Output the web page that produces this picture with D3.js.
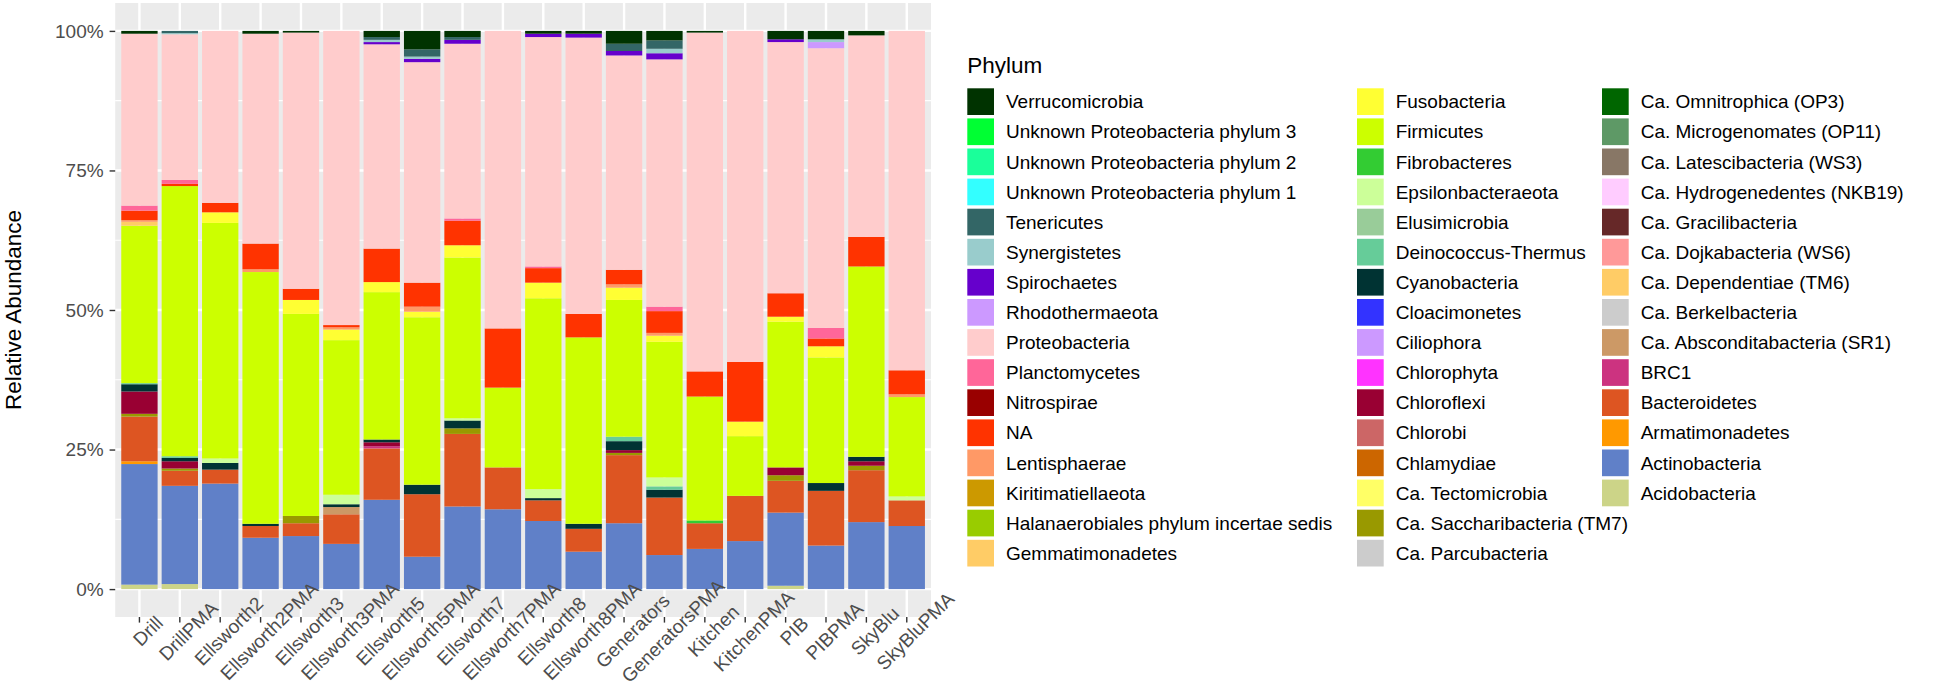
<!DOCTYPE html>
<html lang="en">
<head>
<meta charset="utf-8">
<title>Relative Abundance by Phylum</title>
<script src="https://cdnjs.cloudflare.com/ajax/libs/d3/7.8.5/d3.min.js"></script>
<style>
  body { margin: 0; background: #fff; }
  text { font-family: "Liberation Sans", Arial, sans-serif; }
</style>
</head>
<body>
<script>
// sample names (x axis)
var samples = ["Drill", "DrillPMA", "Ellsworth2", "Ellsworth2PMA", "Ellsworth3", "Ellsworth3PMA",
  "Ellsworth5", "Ellsworth5PMA", "Ellsworth7", "Ellsworth7PMA", "Ellsworth8", "Ellsworth8PMA",
  "Generators", "GeneratorsPMA", "Kitchen", "KitchenPMA", "PIB", "PIBPMA", "SkyBlu", "SkyBluPMA"];

// legend order (top of stack first)
var phyla = ["Verrucomicrobia", "Unknown Proteobacteria phylum 3", "Unknown Proteobacteria phylum 2",
  "Unknown Proteobacteria phylum 1", "Tenericutes", "Synergistetes", "Spirochaetes", "Rhodothermaeota",
  "Proteobacteria", "Planctomycetes", "Nitrospirae", "NA", "Lentisphaerae", "Kiritimatiellaeota",
  "Halanaerobiales phylum incertae sedis", "Gemmatimonadetes",
  "Fusobacteria", "Firmicutes", "Fibrobacteres", "Epsilonbacteraeota", "Elusimicrobia",
  "Deinococcus-Thermus", "Cyanobacteria", "Cloacimonetes", "Ciliophora", "Chlorophyta", "Chloroflexi",
  "Chlorobi", "Chlamydiae", "Ca. Tectomicrobia", "Ca. Saccharibacteria (TM7)", "Ca. Parcubacteria",
  "Ca. Omnitrophica (OP3)", "Ca. Microgenomates (OP11)", "Ca. Latescibacteria (WS3)",
  "Ca. Hydrogenedentes (NKB19)", "Ca. Gracilibacteria", "Ca. Dojkabacteria (WS6)",
  "Ca. Dependentiae (TM6)", "Ca. Berkelbacteria", "Ca. Absconditabacteria (SR1)", "BRC1",
  "Bacteroidetes", "Armatimonadetes", "Actinobacteria", "Acidobacteria"];

var phylaColors = ["#003300", "#00FF33", "#1AFF9A", "#33FFFF", "#336666", "#99CCCC", "#6600CC", "#CC99FF",
  "#FFCCCC", "#FF6699", "#990000", "#FF3300", "#FF9966", "#CC9900", "#99CC00", "#FFCC66",
  "#FFFF33", "#CCFF00", "#33CC33", "#CCFF99", "#99CC99", "#66CC99", "#003333", "#3333FF",
  "#CC99FF", "#FF33FF", "#990033", "#CC6666", "#CC6600", "#FFFF66", "#999900", "#CCCCCC",
  "#006600", "#5E9966", "#887766", "#FFCCFF", "#662828", "#FF9999", "#FFCC66", "#CCCCCC",
  "#CC9966", "#CC3380", "#DD5522", "#FF9900", "#6080C8", "#CCD488"];

// relative abundance in percent, one value per sample (same order as samples)
var acidobacteria   = [0.8, 0.9, 0, 0, 0, 0, 0, 0, 0, 0, 0, 0, 0, 0, 0, 0, 0.6, 0, 0, 0];
var actinobacteria  = [21.6, 17.6, 18.9, 9.2, 9.5, 8.1, 16.0, 5.8, 14.8, 14.3, 12.2, 6.7, 11.8, 6.1, 7.2, 8.6, 13.1, 7.8, 12.0, 11.3];
var armatimonadetes = [0.5, 0, 0, 0, 0, 0, 0, 0, 0, 0, 0, 0, 0, 0, 0, 0, 0, 0, 0, 0];
var bacteroidetes   = [8.0, 2.7, 2.5, 2.1, 2.3, 5.3, 9.2, 11.2, 13.0, 7.5, 3.7, 4.1, 12.2, 10.3, 4.6, 8.1, 5.7, 9.8, 9.3, 4.6];
var brc1            = [0, 0, 0, 0, 0, 0, 0.4, 0, 0, 0, 0, 0, 0, 0, 0, 0, 0, 0, 0, 0];
var absconditabact  = [0, 0, 0, 0, 0, 1.3, 0, 0, 0, 0, 0, 0, 0, 0, 0, 0, 0, 0, 0, 0];
var saccharibact    = [0.5, 0.4, 0, 0, 1.3, 0, 0, 0, 1.0, 0, 0, 0, 0.4, 0, 0, 0, 1.0, 0, 0.8, 0];
var chloroflexi     = [4.0, 1.3, 0, 0, 0, 0, 0.7, 0, 0, 0, 0, 0, 0.5, 0, 0, 0, 1.4, 0, 0.8, 0];
var cyanobacteria   = [1.3, 0.6, 1.2, 0.4, 0, 0.5, 0.5, 1.7, 1.4, 0, 0.4, 0.9, 1.6, 1.4, 0, 0, 0, 1.4, 0.8, 0];
var deinococcus     = [0.2, 0.3, 0, 0, 0, 0, 0, 0, 0, 0, 0, 0, 0.8, 0.6, 0, 0, 0, 0, 0, 0];
var epsilonbact     = [0, 0, 0.8, 0, 0, 1.7, 0, 0, 0.4, 0, 1.6, 0, 0, 1.6, 0, 0, 0, 0, 0, 0.7];
var fibrobacteres   = [0, 0, 0, 0, 0, 0, 0, 0, 0, 0, 0, 0, 0, 0, 0.5, 0, 0, 0, 0, 0];
var firmicutes      = [28.2, 48.4, 42.2, 45.1, 36.2, 27.7, 26.4, 30.0, 28.8, 14.3, 34.2, 33.4, 24.5, 24.3, 22.2, 10.7, 26.1, 22.5, 34.1, 17.8];
var fusobacteria    = [0, 0, 1.9, 0, 2.5, 1.9, 1.8, 1.0, 2.2, 0, 2.8, 0, 2.2, 1.1, 0, 2.6, 0.9, 2.0, 0, 0];
var gemmatimonad    = [0.7, 0, 0, 0, 0, 0, 0, 0, 0, 0, 0, 0, 0, 0, 0, 0, 0, 0, 0, 0];
var lentisphaerae   = [0.3, 0, 0, 0.5, 0, 0.4, 0, 0.9, 0, 0, 0, 0, 0.6, 0.5, 0, 0, 0, 0, 0, 0.5];
var naPhylum        = [1.7, 0.4, 1.7, 4.6, 2.0, 0.4, 6.0, 4.3, 4.4, 10.6, 2.6, 4.2, 2.6, 3.9, 4.5, 10.7, 4.2, 1.4, 5.3, 4.3];
var planctomycetes  = [0.9, 0.7, 0, 0, 0, 0, 0, 0, 0.4, 0, 0.3, 0, 0, 0.8, 0, 0, 0, 1.9, 0, 0];
var proteobacteria  = [30.8, 26.1, 30.8, 37.6, 45.9, 52.7, 36.6, 39.5, 31.3, 53.3, 41.1, 49.5, 38.4, 44.3, 60.7, 59.3, 45.0, 50.1, 36.1, 60.8];
var rhodothermaeota = [0, 0, 0, 0, 0, 0, 0, 0, 0, 0, 0, 0, 0, 0, 0, 0, 0, 1.1, 0, 0];
var spirochaetes    = [0, 0, 0, 0, 0, 0, 0.4, 0.6, 0.7, 0, 0.6, 0.7, 0.8, 1.1, 0, 0, 0.5, 0, 0, 0];
var synergistetes   = [0, 0.2, 0, 0, 0, 0, 0.4, 0.4, 0, 0, 0, 0, 0, 0.8, 0, 0, 0, 0.5, 0, 0];
var tenericutes     = [0, 0.4, 0, 0, 0, 0, 0.5, 1.3, 0.5, 0, 0, 0, 1.3, 1.5, 0, 0, 0, 0, 0, 0];
var verrucomicrobia = [0.5, 0, 0, 0.5, 0.3, 0, 1.1, 3.3, 1.1, 0, 0.5, 0.5, 2.3, 1.7, 0.3, 0, 1.5, 1.5, 0.8, 0];

var yBreaks = [0, 0.25, 0.5, 0.75, 1];
var yMinorBreaks = [0.125, 0.375, 0.625, 0.875];

var abundance = {
  "Acidobacteria": acidobacteria, "Actinobacteria": actinobacteria, "Armatimonadetes": armatimonadetes,
  "Bacteroidetes": bacteroidetes, "BRC1": brc1, "Ca. Absconditabacteria (SR1)": absconditabact,
  "Ca. Saccharibacteria (TM7)": saccharibact, "Chloroflexi": chloroflexi, "Cyanobacteria": cyanobacteria,
  "Deinococcus-Thermus": deinococcus, "Epsilonbacteraeota": epsilonbact, "Fibrobacteres": fibrobacteres,
  "Firmicutes": firmicutes, "Fusobacteria": fusobacteria, "Gemmatimonadetes": gemmatimonad,
  "Lentisphaerae": lentisphaerae, "NA": naPhylum, "Planctomycetes": planctomycetes,
  "Proteobacteria": proteobacteria, "Rhodothermaeota": rhodothermaeota, "Spirochaetes": spirochaetes,
  "Synergistetes": synergistetes, "Tenericutes": tenericutes, "Verrucomicrobia": verrucomicrobia
};

var W = 1954, H = 688;
var panel = {left: 115.2, right: 931, top: 3, bottom: 617};

var svg = d3.select("body").append("svg")
  .attr("width", W).attr("height", H);

var color = d3.scaleOrdinal().domain(phyla).range(phylaColors);

var x = d3.scaleBand().domain(samples)
  .range([panel.left, panel.right])
  .paddingInner(0.1).paddingOuter(0.15);

var y = d3.scaleLinear().domain([-0.05, 1.05]).range([panel.bottom, panel.top]);

// one row per sample, fractions
var rows = samples.map(function(s, i) {
  var r = {sample: s};
  phyla.forEach(function(p) { r[p] = abundance[p] ? abundance[p][i] / 100 : 0; });
  return r;
});

// bottom of the stack is the last legend entry
var stackKeys = phyla.slice().reverse();
var series = d3.stack().keys(stackKeys)(rows);

// panel background + grid
svg.append("rect")
  .attr("x", panel.left).attr("y", panel.top)
  .attr("width", panel.right - panel.left).attr("height", panel.bottom - panel.top)
  .attr("fill", "#EBEBEB");

svg.selectAll(".minor").data(yMinorBreaks).enter().append("line")
  .attr("x1", panel.left).attr("x2", panel.right)
  .attr("y1", function(d) { return y(d); }).attr("y2", function(d) { return y(d); })
  .attr("stroke", "#fff").attr("stroke-width", 1.2);

svg.selectAll(".major").data(yBreaks).enter().append("line")
  .attr("x1", panel.left).attr("x2", panel.right)
  .attr("y1", function(d) { return y(d); }).attr("y2", function(d) { return y(d); })
  .attr("stroke", "#fff").attr("stroke-width", 2.4);

svg.selectAll(".vgrid").data(samples).enter().append("line")
  .attr("x1", function(d) { return x(d) + x.bandwidth() / 2; })
  .attr("x2", function(d) { return x(d) + x.bandwidth() / 2; })
  .attr("y1", panel.top).attr("y2", panel.bottom)
  .attr("stroke", "#fff").attr("stroke-width", 2.4);

// stacked bars
svg.append("g").selectAll("g").data(series).enter().append("g")
  .attr("fill", function(d) { return color(d.key); })
  .selectAll("rect").data(function(d) { return d.filter(function(v) { return v[1] - v[0] > 0; }); })
  .enter().append("rect")
  .attr("x", function(d) { return x(d.data.sample); })
  .attr("width", x.bandwidth())
  .attr("y", function(d) { return y(d[1]); })
  .attr("height", function(d) { return y(d[0]) - y(d[1]); });

// y axis
var yAxis = svg.append("g")
  .attr("transform", "translate(" + panel.left + ",0)")
  .call(d3.axisLeft(y).tickValues(yBreaks).tickFormat(d3.format(".0%")).tickSize(5.6).tickPadding(6));
yAxis.select(".domain").remove();
yAxis.selectAll("line").attr("stroke", "#333").attr("stroke-width", 1.4);
yAxis.selectAll("text").attr("fill", "#4D4D4D")
  .style("font-size", "19px").style("font-family", "Liberation Sans, Arial, sans-serif");

// x axis, labels turned 45 degrees and centred under the tick
var xAxis = svg.append("g")
  .attr("transform", "translate(0," + panel.bottom + ")")
  .call(d3.axisBottom(x).tickSize(5.6));
xAxis.select(".domain").remove();
xAxis.selectAll("line").attr("stroke", "#333").attr("stroke-width", 1.4);
xAxis.selectAll("text")
  .attr("y", null).attr("dy", "0.35em")
  .attr("text-anchor", "middle")
  .attr("transform", "translate(8.5,14) rotate(-45)")
  .attr("fill", "#4D4D4D")
  .style("font-size", "19px").style("font-family", "Liberation Sans, Arial, sans-serif");

// y axis title
svg.append("text")
  .attr("transform", "translate(21," + ((panel.top + panel.bottom) / 2) + ") rotate(-90)")
  .attr("text-anchor", "middle")
  .style("font-size", "22.5px")
  .text("Relative Abundance");

// legend: 16 rows per column
var legend = {x: 967.3, titleY: 73, top: 88.3, pitch: 30.1, key: 26.7, gap: 12, perCol: 16,
  cols: [967.3, 1357, 1602]};

svg.append("text")
  .attr("x", legend.x).attr("y", legend.titleY)
  .style("font-size", "22.5px")
  .text("Phylum");

var items = svg.append("g").selectAll("g").data(phyla).enter().append("g")
  .attr("transform", function(d, i) {
    var c = Math.floor(i / legend.perCol), r = i % legend.perCol;
    return "translate(" + legend.cols[c] + "," + (legend.top + r * legend.pitch) + ")";
  });

items.append("rect")
  .attr("width", legend.key).attr("height", legend.key)
  .attr("fill", function(d) { return color(d); });

items.append("text")
  .attr("x", legend.key + legend.gap).attr("y", legend.key / 2).attr("dy", "0.35em")
  .style("font-size", "19px")
  .text(function(d) { return d; });
</script>
</body>
</html>
